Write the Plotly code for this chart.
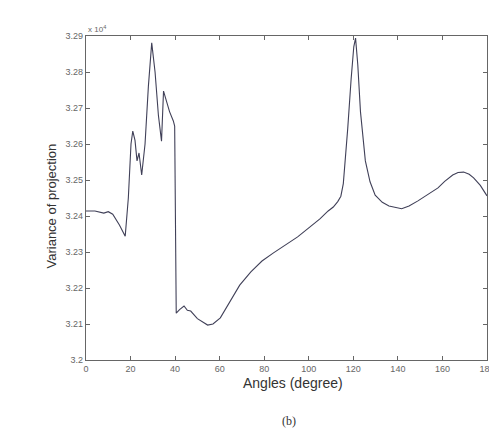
import plotly.graph_objects as go

angles = [0, 4, 8, 10, 12, 15, 17.6, 19, 20.2, 21, 22, 22.9, 23.8, 25, 26.5, 28, 29.5, 31, 32.5,
          33.9, 34.8, 36, 37.5, 39.2, 39.8, 40.5, 42, 44, 45.5, 47, 50, 54.6, 57, 60.3, 65, 69,
          74, 79, 84, 89, 95, 100, 105, 108.7, 111, 113, 114.4, 115.5, 116.5, 117.5, 119, 120.2,
          121, 122, 123.2, 124.3, 125.4, 127.5, 129.8, 133, 136, 141.7, 145, 149, 153, 158, 161,
          164.6, 167, 169.5, 172, 174, 177, 180]
variance = [3.2414, 3.2414, 3.2408, 3.2412, 3.2405, 3.2375, 3.2344, 3.2450, 3.2600, 3.2636,
            3.2610, 3.2553, 3.2575, 3.2514, 3.2600, 3.2760, 3.2881, 3.2800, 3.2680, 3.2608,
            3.2747, 3.2720, 3.2690, 3.2664, 3.2650, 3.2130, 3.2140, 3.2150, 3.2138, 3.2136,
            3.2115, 3.2097, 3.2100, 3.2117, 3.2165, 3.2208, 3.2245, 3.2275, 3.2297, 3.2317,
            3.2342, 3.2367, 3.2392, 3.2414, 3.2425, 3.2440, 3.2455, 3.2490, 3.2560, 3.2644,
            3.2780, 3.2870, 3.2894, 3.2820, 3.2690, 3.2610, 3.2553, 3.2495, 3.2458, 3.2438,
            3.2428, 3.2420, 3.2428, 3.2442, 3.2458, 3.2478, 3.2496, 3.2514, 3.2521, 3.2522,
            3.2516, 3.2506, 3.2485, 3.2456]

x_ticks = [0, 20, 40, 60, 80, 100, 120, 140, 160, 180]
y_ticks = [3.2, 3.21, 3.22, 3.23, 3.24, 3.25, 3.26, 3.27, 3.28, 3.29]
y_tick_labels = ["3.2", "3.21", "3.22", "3.23", "3.24", "3.25", "3.26", "3.27", "3.28", "3.29"]

fig = go.Figure()
fig.add_trace(go.Scatter(x=angles, y=variance, mode="lines",
                         line=dict(color="#404058", width=1.1), showlegend=False))

axis_common = dict(showline=True, linecolor="#666666", linewidth=1.2, mirror="ticks",
                   ticks="inside", ticklen=4, tickcolor="#666666", showgrid=False,
                   zeroline=False, tickfont=dict(family="Liberation Sans", size=9, color="#666666"))

fig.update_xaxes(range=[0, 180], tickvals=x_ticks, **axis_common)
fig.update_yaxes(range=[3.2, 3.29], tickvals=y_ticks, ticktext=y_tick_labels, **axis_common)

fig.update_layout(
    width=497, height=439,
    margin=dict(l=78, r=10, t=28, b=87),
    paper_bgcolor="white", plot_bgcolor="white",
    annotations=[
        dict(text="Angles (degree)", x=0.515, y=-0.101, xref="paper", yref="paper",
             showarrow=False, font=dict(family="Liberation Sans", size=14, color="#333333")),
        dict(text="Variance of projection", x=-0.11, y=0.475, xref="paper", yref="paper",
             textangle=-90, showarrow=False,
             font=dict(family="Liberation Sans", size=13, color="#333333")),
        dict(text="(b)", x=0.505, y=-0.216, xref="paper", yref="paper",
             showarrow=False, font=dict(family="Liberation Serif", size=12, color="#333333")),
        dict(text="x 10<sup>4</sup>", x=0.0, y=1.0, xref="paper", yref="paper",
             xanchor="left", yanchor="bottom", showarrow=False,
             font=dict(family="Liberation Sans", size=8, color="#666666")),
    ],
)

fig.write_html("out.html")
